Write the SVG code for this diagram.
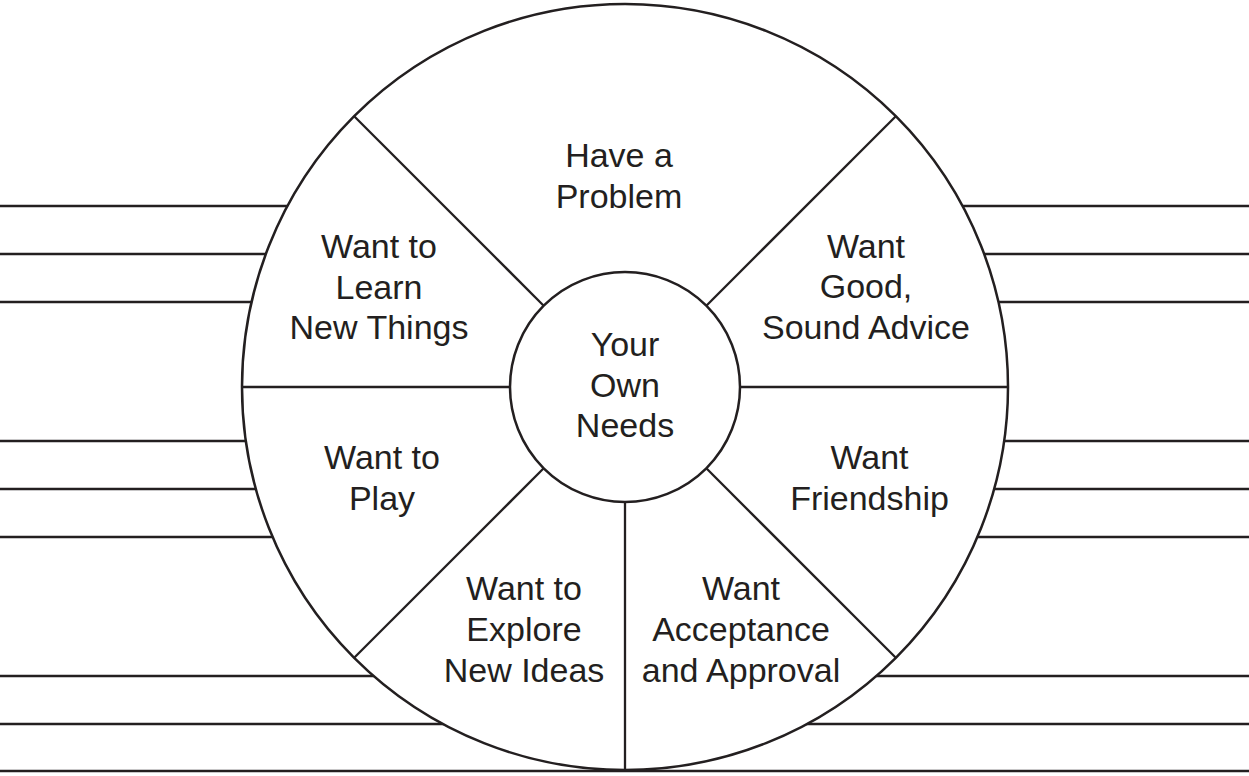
<svg xmlns="http://www.w3.org/2000/svg" width="1249" height="776" viewBox="0 0 1249 776">
<style>
.ln{stroke:#231f20;stroke-width:2.3;fill:none}
.c{stroke:#231f20;stroke-width:2.5;fill:#fff}
text{font-family:"Liberation Sans",Arial,Helvetica,sans-serif;font-size:34px;fill:#231f20;text-anchor:middle}
</style>
<rect width="1249" height="776" fill="#fff"/>
<g id="rules">
<line class="ln" x1="0" y1="206" x2="289" y2="206"/>
<line class="ln" x1="0" y1="254" x2="267" y2="254"/>
<line class="ln" x1="0" y1="302" x2="253" y2="302"/>
<line class="ln" x1="0" y1="441" x2="247" y2="441"/>
<line class="ln" x1="0" y1="489" x2="257" y2="489"/>
<line class="ln" x1="0" y1="537" x2="274" y2="537"/>
<line class="ln" x1="0" y1="676" x2="375" y2="676"/>
<line class="ln" x1="0" y1="724" x2="444" y2="724"/>
<line class="ln" x1="961" y1="206" x2="1249" y2="206"/>
<line class="ln" x1="983" y1="254" x2="1249" y2="254"/>
<line class="ln" x1="997" y1="302" x2="1249" y2="302"/>
<line class="ln" x1="1003" y1="441" x2="1249" y2="441"/>
<line class="ln" x1="993" y1="489" x2="1249" y2="489"/>
<line class="ln" x1="976" y1="537" x2="1249" y2="537"/>
<line class="ln" x1="875" y1="676" x2="1249" y2="676"/>
<line class="ln" x1="806" y1="724" x2="1249" y2="724"/>
<line class="ln" x1="0" y1="771" x2="1249" y2="771"/>
</g>
<g id="wheel">
<circle class="c" cx="625" cy="387" r="383"/>
</g>
<g id="connectors">
<line class="ln" x1="242" y1="387" x2="510" y2="387"/>
<line class="ln" x1="740" y1="387" x2="1008" y2="387"/>
<line class="ln" x1="543.7" y1="305.7" x2="354.2" y2="116.2"/>
<line class="ln" x1="706.3" y1="305.7" x2="895.8" y2="116.2"/>
<line class="ln" x1="543.7" y1="468.3" x2="354.2" y2="657.8"/>
<line class="ln" x1="706.3" y1="468.3" x2="895.8" y2="657.8"/>
<line class="ln" x1="625" y1="502" x2="625" y2="770"/>
</g>
<g id="center">
<circle class="c" cx="625" cy="387" r="115"/>
<text x="625" y="356">Your</text>
<text x="625" y="396.5">Own</text>
<text x="625" y="437">Needs</text>
</g>
<g id="problem">
<text x="619" y="167">Have a</text>
<text x="619" y="207.5">Problem</text>
</g>
<g id="learn">
<text x="379" y="258">Want to</text>
<text x="379" y="298.5">Learn</text>
<text x="379" y="339">New Things</text>
</g>
<g id="advice">
<text x="866" y="257.5">Want</text>
<text x="866" y="298">Good,</text>
<text x="866" y="338.5">Sound Advice</text>
</g>
<g id="play">
<text x="382" y="468.5">Want to</text>
<text x="382" y="510">Play</text>
</g>
<g id="friendship">
<text x="869.5" y="468.5">Want</text>
<text x="869.5" y="510">Friendship</text>
</g>
<g id="explore">
<text x="524" y="600">Want to</text>
<text x="524" y="641">Explore</text>
<text x="524" y="681.5">New Ideas</text>
</g>
<g id="acceptance">
<text x="741" y="600">Want</text>
<text x="741" y="641">Acceptance</text>
<text x="741" y="681.5">and Approval</text>
</g>
</svg>
